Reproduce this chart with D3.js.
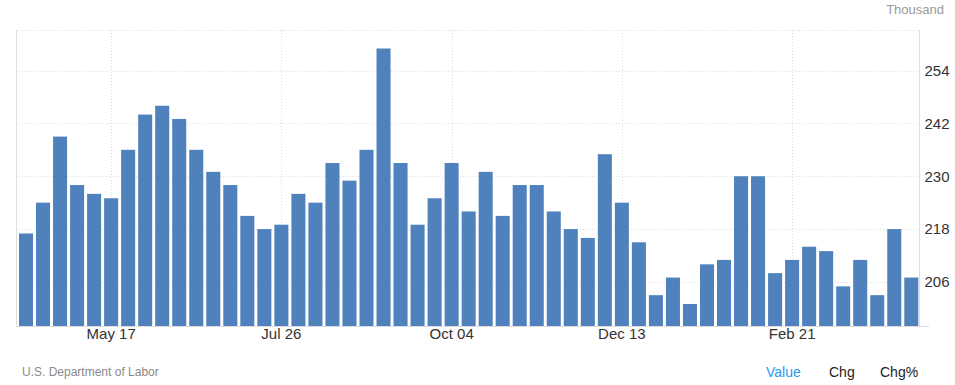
<!DOCTYPE html>
<html>
<head>
<meta charset="utf-8">
<script src="https://cdn.jsdelivr.net/npm/d3@7"></script>
<style>
	body{margin:0;background:#fff;font-family:Arial,"Liberation Sans",sans-serif}
	svg{display:block}
</style>
</head>
<body>
<svg id="chart" width="955" height="385"></svg>
<script>
// weekly values, thousand (week ending Apr 12 2025 ... Apr 11 2026)
const firstWeek = new Date(Date.UTC(2025, 3, 12))
const values = [217,224,239,228,226,225,236,244,246,243,236,231,228,221,218,219,226,224,
	233,229,236,259,233,219,225,233,222,231,221,228,228,222,218,216,235,224,
	215,203,207,201,210,211,230,230,208,211,214,213,205,211,203,218,207]
const tickLabels = ["May 17","Jul 26","Oct 04","Dec 13","Feb 21"]
const yTicks = [206,218,230,242,254]
const yDomain = [196, 263.2]

const fmt = d3.utcFormat("%b %d")
const weeks = values.map((v,i) => fmt(d3.utcDay.offset(firstWeek, i*7)))
const data = weeks.map((w,i) => ({week: w, value: values[i]}))

const svg = d3.select("#chart"),
plotLeft = 16, plotRight = 919.5, plotTop = 30, plotBottom = 326

const x = d3.scaleBand().domain(weeks).range([17.5, 919.8]).paddingInner(0.176).paddingOuter(0.088)
const y = d3.scaleLinear().domain(yDomain).range([plotBottom, plotTop])

const grid = svg.append("g").attr("class","grid")
	.attr("style","fill:none;stroke:#dcdcdc;stroke-dasharray:1,2;shape-rendering:crispEdges")
grid.selectAll("line.h").data(yTicks.concat([yDomain[1]]))
	.enter().append("line").attr("class","h")
	.attr("x1", plotLeft).attr("x2", plotRight)
	.attr("y1", d=>Math.round(y(d))+0.5).attr("y2", d=>Math.round(y(d))+0.5)
grid.selectAll("line.v").data(tickLabels)
	.enter().append("line").attr("class","v")
	.attr("x1", d=>Math.round(x(d)+x.bandwidth()/2)+0.5).attr("x2", d=>Math.round(x(d)+x.bandwidth()/2)+0.5)
	.attr("y1", plotTop).attr("y2", plotBottom)

// frame lines
const frame = svg.append("g").attr("style","stroke:#dedede;shape-rendering:crispEdges")
frame.append("line").attr("x1", plotLeft+0.5).attr("x2", plotLeft+0.5).attr("y1", plotTop).attr("y2", plotBottom)
frame.append("line").attr("x1", plotRight).attr("x2", plotRight).attr("y1", plotTop).attr("y2", plotBottom)
frame.append("line").attr("x1", plotLeft).attr("x2", 929).attr("y1", plotBottom+0.5).attr("y2", plotBottom+0.5)

svg.append("g").selectAll("rect").data(data)
	.enter().append("rect")
	.attr("x", d=>x(d.week))
	.attr("width", x.bandwidth())
	.attr("y", d=>y(d.value))
	.attr("height", d=>plotBottom - y(d.value))
	.attr("fill", "#4f81bd")

const yAxis = svg.append("g").attr("transform", `translate(${plotRight},0)`)
	.call(d3.axisRight(y).tickValues(yTicks).tickSize(0).tickPadding(5))
yAxis.select(".domain").remove()
yAxis.selectAll("text").attr("font-size", 15).attr("font-family", "Arial,'Liberation Sans',sans-serif").attr("fill", "#333")

const xAxis = svg.append("g").attr("transform", `translate(0,${plotBottom})`)
	.call(d3.axisBottom(x).tickValues(tickLabels).tickSize(0).tickPadding(2))
xAxis.select(".domain").remove()
xAxis.selectAll("text").attr("font-size", 15).attr("font-family", "Arial,'Liberation Sans',sans-serif").attr("fill", "#333")

svg.append("text").attr("x", 944).attr("y", 14).attr("text-anchor","end")
	.attr("font-size", 13).attr("fill", "#999").text("Thousand")

svg.append("text").attr("x", 22).attr("y", 376)
	.attr("font-size", 12).attr("fill", "#8a8a8a").text("U.S. Department of Labor")

const legend = [["Value", 766, "#2b98f0"], ["Chg", 829, "#222"], ["Chg%", 880, "#222"]]
svg.append("g").selectAll("text").data(legend)
	.enter().append("text")
	.attr("x", d=>d[1]).attr("y", 377)
	.attr("font-size", 14).attr("fill", d=>d[2])
	.text(d=>d[0])
</script>
</body>
</html>
